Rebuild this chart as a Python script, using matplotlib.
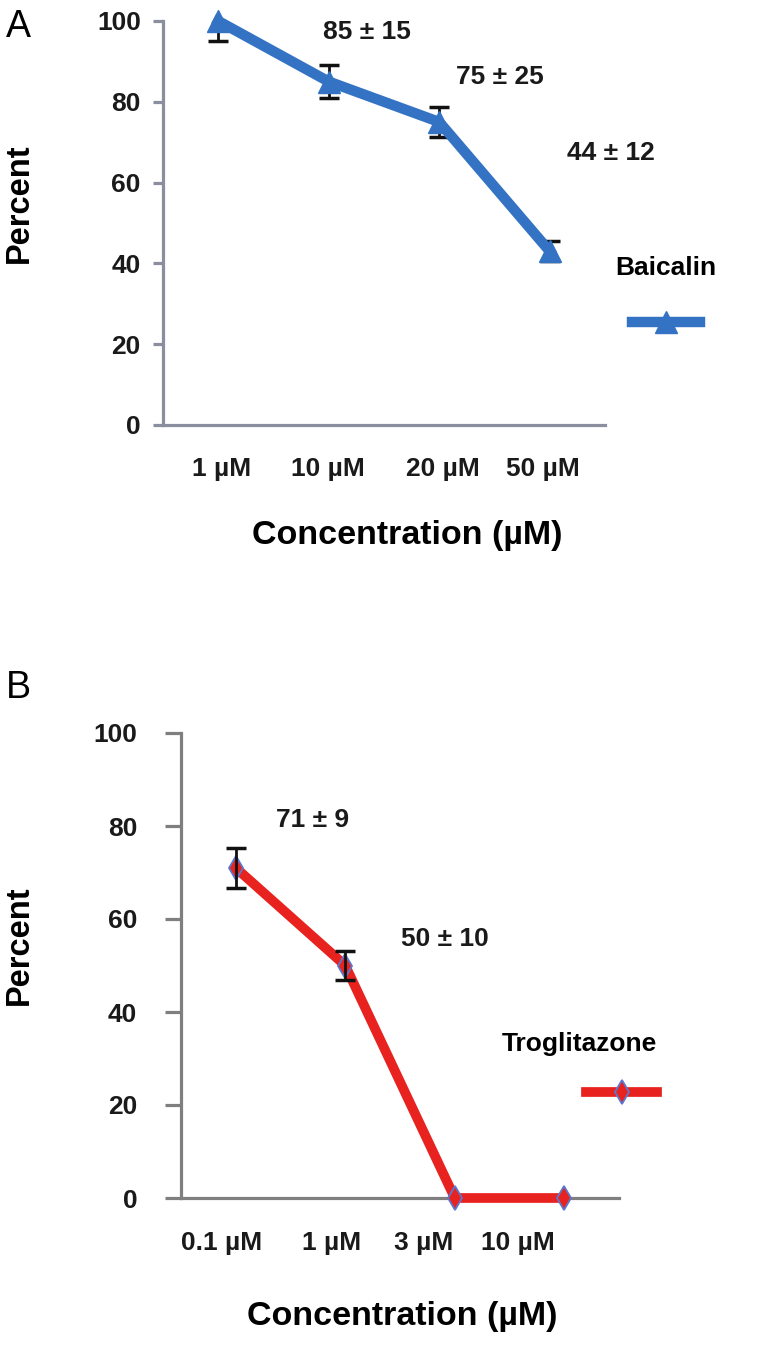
import numpy as np
import matplotlib
matplotlib.use("Agg")
import matplotlib.pyplot as plt

plt.rcParams['font.family'] = ['Liberation Sans', 'DejaVu Sans']

# panel A - Baicalin
conc_a = ["1 \u00b5M", "10 \u00b5M", "20 \u00b5M", "50 \u00b5M"]
pct_a = [100, 85, 75, 43]
err_a = [5, 4, 3.7, 2.5]
notes_a = ["85 \u00b1 15", "75 \u00b1 25", "44 \u00b1 12"]

# panel B - Troglitazone
conc_b = ["0.1 \u00b5M", "1 \u00b5M", "3 \u00b5M", "10 \u00b5M"]
pct_b = [71, 50, 0, 0]
err_b = [4.3, 3.2, 0, 0]
notes_b = ["71 \u00b1 9", "50 \u00b1 10"]

yticks = [0, 20, 40, 60, 80, 100]

W, H = 780, 1347
fig = plt.figure(figsize=(W / 100, H / 100), dpi=100)


def px_axes(left, right, top, bottom):
    return fig.add_axes([left / W, 1 - bottom / H, (right - left) / W, (bottom - top) / H])


def style_axes(ax, spine_col, ticklen, ypad, xpad):
    for s in ['top', 'right']:
        ax.spines[s].set_visible(False)
    for s in ['left', 'bottom']:
        ax.spines[s].set_color(spine_col)
        ax.spines[s].set_linewidth(2.3)
    ax.set_xlim(0.5, 4.5)
    ax.set_ylim(0, 100)
    ax.set_yticks(yticks)
    ax.tick_params(axis='y', direction='out', length=ticklen, width=2.3,
                   color=spine_col, pad=ypad, labelsize=19, labelcolor='#1a1a1a')
    ax.tick_params(axis='x', length=0, pad=xpad, labelsize=19, labelcolor='#1a1a1a')
    for lab in ax.get_yticklabels() + ax.get_xticklabels():
        lab.set_fontweight('bold')


# ---------------- A ----------------
axA = px_axes(163, 605, 21, 425)
xa = np.arange(1, len(pct_a) + 1)
blue = '#3473C4'
axA.errorbar(xa, pct_a, yerr=err_a, fmt='none', ecolor='#111111', elinewidth=2,
             capsize=7, capthick=2.5, zorder=2)
lineA, = axA.plot(xa, pct_a, color=blue, lw=7.5, marker='^', ms=16,
                  mfc=blue, mec=blue, zorder=3, clip_on=False)
style_axes(axA, '#8B8E9E', 7, 9, 23)
axA.set_xticks([1.03, 1.99, 3.03, 3.94])
axA.set_xticklabels(conc_a)
axA.set_ylabel("Percent", fontsize=23.5, fontweight='bold')
axA.yaxis.set_label_coords(-0.29, 0.55)
axA.set_xlabel("Concentration (\u00b5M)", fontsize=24.5, fontweight='bold')
axA.xaxis.set_label_coords(0.552, -0.236)
for txt, (tx, ty) in zip(notes_a, [(2.35, 97.3), (3.55, 86.1), (4.55, 67.3)]):
    axA.text(tx, ty, txt, ha='center', va='center', fontsize=19, fontweight='bold',
             color='#1a1a1a', clip_on=False)
legA = axA.legend([lineA], [''], title='Baicalin', loc='center',
                  bbox_to_anchor=(1.138, 0.319), frameon=False, handlelength=2.6,
                  handletextpad=0, labelspacing=1.2, numpoints=1, fontsize=19,
                  title_fontproperties={'weight': 'bold', 'size': 19})
fig.text(6 / W, 1 - 27 / H, "A", fontsize=27, va='center', ha='left')

# ---------------- B ----------------
axB = px_axes(181, 619, 733, 1198)
xb = np.arange(1, len(pct_b) + 1)
red = '#E8221F'
axB.errorbar(xb[:2], pct_b[:2], yerr=err_b[:2], fmt='none', ecolor='#111111',
             elinewidth=2, capsize=7, capthick=2.5, zorder=4)
lineB, = axB.plot(xb, pct_b, color=red, lw=7, marker='d', ms=12,
                  mfc=red, mec='#5A78D0', mew=1.3, zorder=3, clip_on=False)
style_axes(axB, '#7F7F7F', 11.5, 20, 24)
axB.set_xticks([0.874, 1.879, 2.719, 3.578])
axB.set_xticklabels(conc_b)
axB.set_ylabel("Percent", fontsize=23.5, fontweight='bold')
axB.yaxis.set_label_coords(-0.333, 0.544)
axB.set_xlabel("Concentration (\u00b5M)", fontsize=24.5, fontweight='bold')
axB.xaxis.set_label_coords(0.505, -0.222)
for txt, (tx, ty) in zip(notes_b, [(1.705, 81.3), (2.911, 55.7)]):
    axB.text(tx, ty, txt, ha='center', va='center', fontsize=19, fontweight='bold',
             color='#1a1a1a')
legB = axB.legend([lineB], [''], title='Troglitazone', loc='center',
                  bbox_to_anchor=(0.91, 0.277), frameon=False, handlelength=2.7,
                  handletextpad=0, labelspacing=1.0, numpoints=1, fontsize=19,
                  alignment='right',
                  title_fontproperties={'weight': 'bold', 'size': 19})
fig.text(6 / W, 1 - 688 / H, "B", fontsize=27, va='center', ha='left')

fig.savefig("out.png", dpi=100)
